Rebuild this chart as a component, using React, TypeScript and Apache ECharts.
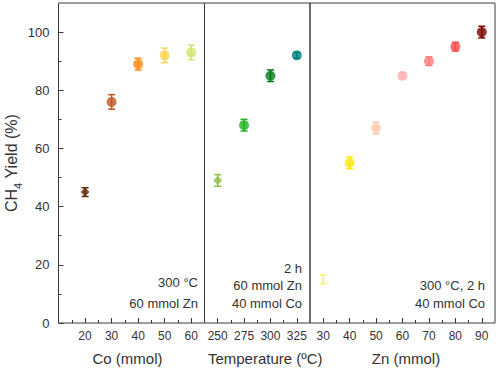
import React, { useEffect, useRef } from 'react';
import * as echarts from 'echarts';

const coX = [20, 30, 40, 50, 60];
const coY = [45, 76, 89, 92, 93];
const coErr = [1.5, 2.5, 2, 2.5, 2.5];
const coColors = ['#5c2a0a', '#c0561c', '#ff8a10', '#ffd24a', '#d6e468'];
const coSymbols = ['diamond', 'circle', 'circle', 'circle', 'circle'];

const tempX = [250, 275, 300, 325];
const tempY = [49, 68, 85, 92];
const tempErr = [2, 2, 2, 1];
const tempColors = ['#8cbf3c', '#1cb41c', '#007a18', '#008080'];
const tempSymbols = ['diamond', 'circle', 'circle', 'circle'];

const znX = [30, 40, 50, 60, 70, 80, 90];
const znY = [15, 55, 67, 85, 90, 95, 100];
const znErr = [1.5, 2, 2, 1, 1.5, 1.5, 2];
const znColors = ['#fff06a', '#ffe800', '#ffcaa8', '#ffb0b0', '#ff7c7c', '#ff4848', '#7a0000'];
const znSymbols = ['none', 'circle', 'circle', 'circle', 'circle', 'circle', 'circle'];

const yTicks = [0, 20, 40, 60, 80, 100];
const yMinor = [10, 30, 50, 70, 90];
const coTicks = [20, 30, 40, 50, 60];
const coMinor = [15, 25, 35, 45, 55];
const tempTicks = [250, 275, 300, 325];
const tempMinor = [262.5, 287.5, 312.5];
const znTicks = [30, 40, 50, 60, 70, 80, 90];
const znMinor = [35, 45, 55, 65, 75, 85];

const FONT = 'Liberation Sans, Arial, sans-serif';
const TXT = '#333333';
const LINE = '#3a3a3a';

export default function App() {
  const ref = useRef<HTMLDivElement>(null);
  useEffect(() => {
    document.body.style.margin = '0';
    const chart = echarts.init(ref.current!, null, { renderer: 'svg' });

    const errSeries = (xs: number[], ys: number[], es: number[], colors: string[], idx: number) => ({
      type: 'custom',
      xAxisIndex: idx * 2,
      yAxisIndex: idx === 0 ? 0 : idx + 1,
      z: 1,
      data: xs.map((x, i) => [x, ys[i], es[i]]),
      encode: { x: 0, y: 1 },
      renderItem: (params: any, api: any) => {
        const x = api.value(0), y = api.value(1), e = api.value(2);
        const t = api.coord([x, y + e]);
        const b = api.coord([x, y - e]);
        const c = colors[params.dataIndex];
        const hw = 3.5;
        const st = { stroke: c, lineWidth: 1.5 };
        return {
          type: 'group',
          children: [
            { type: 'line', shape: { x1: t[0], y1: t[1], x2: b[0], y2: b[1] }, style: st },
            { type: 'line', shape: { x1: t[0] - hw, y1: t[1], x2: t[0] + hw, y2: t[1] }, style: st },
            { type: 'line', shape: { x1: b[0] - hw, y1: b[1], x2: b[0] + hw, y2: b[1] }, style: st },
          ],
        };
      },
    });

    const ptSeries = (xs: number[], ys: number[], colors: string[], syms: string[], idx: number) => ({
      type: 'scatter',
      xAxisIndex: idx * 2,
      yAxisIndex: idx === 0 ? 0 : idx + 1,
      z: 2,
      data: xs.map((x, i) => ({
        value: [x, ys[i]],
        symbol: syms[i] === 'none' ? 'circle' : syms[i],
        symbolSize: syms[i] === 'none' ? 0 : syms[i] === 'diamond' ? 9 : 10,
        itemStyle: { color: colors[i] },
      })),
    });

    const grids = [
      { left: 58.5, width: 146, top: 3, height: 320 },
      { left: 204.5, width: 105.5, top: 3, height: 320 },
      { left: 310, width: 185, top: 3, height: 320 },
    ].map((g) => ({ ...g, show: true, borderColor: LINE, borderWidth: 1, backgroundColor: 'transparent' }));

    const mkX = (gi: number, min: number, max: number, ticks: number[], minor: number[], name: string, pad: number[]) => [
      {
        type: 'value', gridIndex: gi, min, max, position: 'bottom',
        splitLine: { show: false },
        axisLine: { show: false },
        axisTick: { show: true, inside: true, length: 5, customValues: ticks, lineStyle: { color: LINE } },
        axisLabel: { customValues: ticks, color: TXT, fontSize: 12, fontFamily: FONT, margin: 7 },
        name, nameLocation: 'middle', nameGap: 28,
        nameTextStyle: { color: TXT, fontSize: 15, fontFamily: FONT, padding: pad },
      },
      {
        type: 'value', gridIndex: gi, min, max, position: 'bottom',
        splitLine: { show: false },
        axisLine: { show: false },
        axisTick: { show: true, inside: true, length: 3, customValues: minor, lineStyle: { color: LINE } },
        axisLabel: { show: false },
      },
    ];

    const xAxis = [
      ...mkX(0, 10, 65, coTicks, coMinor, 'Co (mmol)', [0, 8, 0, 0]),
      ...mkX(1, 237.5, 337.5, tempTicks, tempMinor, 'Temperature (ºC)', [0, 0, 0, 16]),
      ...mkX(2, 25, 95, znTicks, znMinor, 'Zn (mmol)', [0, 0, 0, 7]),
    ];

    const yAxis = [
      {
        type: 'value', gridIndex: 0, min: 0, max: 110, position: 'left',
        splitLine: { show: false }, axisLine: { show: false },
        axisTick: { show: true, inside: true, length: 5, customValues: yTicks, lineStyle: { color: LINE } },
        axisLabel: { customValues: yTicks, color: TXT, fontSize: 13, fontFamily: FONT, margin: 9 },
        name: '{a|CH}{b|4}{a| Yield (%)}', nameLocation: 'middle', nameGap: 35, nameRotate: 90,
        nameTextStyle: {
          rich: {
            a: { fontSize: 16, fontFamily: FONT, color: TXT, lineHeight: 24, verticalAlign: 'middle' },
            b: { fontSize: 11, fontFamily: FONT, color: TXT, lineHeight: 11, verticalAlign: 'bottom' },
          },
        },
      },
      {
        type: 'value', gridIndex: 0, min: 0, max: 110, position: 'left',
        splitLine: { show: false }, axisLine: { show: false },
        axisTick: { show: true, inside: true, length: 3, customValues: yMinor, lineStyle: { color: LINE } },
        axisLabel: { show: false },
      },
      { type: 'value', gridIndex: 1, min: 0, max: 110, splitLine: { show: false }, axisLine: { show: false }, axisTick: { show: false }, axisLabel: { show: false } },
      { type: 'value', gridIndex: 2, min: 0, max: 110, splitLine: { show: false }, axisLine: { show: false }, axisTick: { show: false }, axisLabel: { show: false } },
    ];

    const ann = (right: number, y: number, text: string) => ({
      type: 'text', right, top: y,
      style: { text, fill: TXT, fontSize: 13, fontFamily: FONT, textAlign: 'right' },
    });

    chart.setOption({
      animation: false,
      grid: grids,
      xAxis,
      yAxis,
      series: [
        errSeries(coX, coY, coErr, coColors, 0),
        ptSeries(coX, coY, coColors, coSymbols, 0),
        errSeries(tempX, tempY, tempErr, tempColors, 1),
        ptSeries(tempX, tempY, tempColors, tempSymbols, 1),
        errSeries(znX, znY, znErr, znColors, 2),
        ptSeries(znX, znY, znColors, znSymbols, 2),
      ],
      graphic: [
        ann(500 - 198, 276, '300 °C'),
        ann(500 - 198, 297, '60 mmol Zn'),
        ann(500 - 302, 262, '2 h'),
        ann(500 - 302, 279, '60 mmol Zn'),
        ann(500 - 302, 297, '40 mmol Co'),
        ann(500 - 485, 279, '300 °C, 2 h'),
        ann(500 - 485, 297, '40 mmol Co'),
      ],
    });
    return () => chart.dispose();
  }, []);
  return <div ref={ref} style={{ width: 500, height: 371 }} />;
}
